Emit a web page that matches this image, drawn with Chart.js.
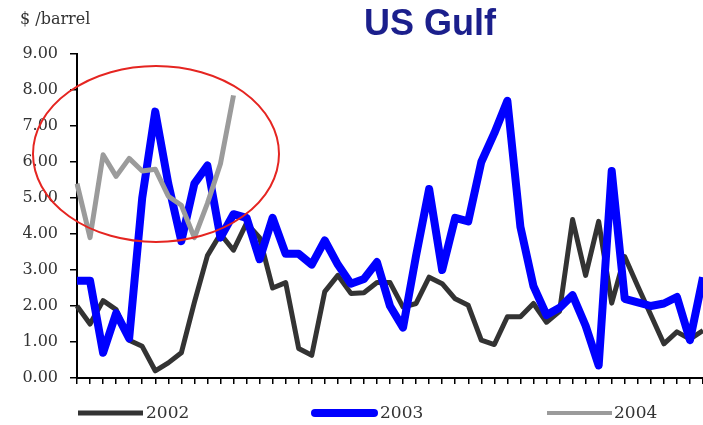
<!DOCTYPE html>
<html>
<head>
<meta charset="utf-8">
<script src="https://cdn.jsdelivr.net/npm/chart.js@4/dist/chart.umd.min.js"></script>
<style>
  html, body { margin: 0; padding: 0; background: #ffffff; overflow: hidden; }
  canvas { display: block; }
</style>
</head>
<body>
<canvas id="chart" width="703" height="425"></canvas>
<script>
// Weekly US Gulf values, $/barrel
const weeks = [1, 2, 3, 4, 5, 6, 7, 8, 9, 10, 11, 12, 13, 14, 15, 16, 17, 18, 19, 20,
  21, 22, 23, 24, 25, 26, 27, 28, 29, 30, 31, 32, 33, 34, 35, 36, 37, 38, 39, 40,
  41, 42, 43, 44, 45, 46, 47, 48, 49];

const gulf2002 = [2.0, 1.5, 2.15, 1.9, 1.05, 0.88, 0.2, 0.42, 0.7, 2.1,
  3.4, 4.0, 3.55, 4.3, 3.9, 2.5, 2.65, 0.82, 0.63, 2.4,
  2.85, 2.35, 2.37, 2.65, 2.65, 1.97, 2.07, 2.8, 2.62, 2.2,
  2.02, 1.05, 0.93, 1.7, 1.7, 2.07, 1.55, 1.85, 4.4, 2.85,
  4.35, 2.08, 3.37, 2.55, 1.75, 0.95, 1.28, 1.08, 1.32];

const gulf2003 = [2.7, 2.7, 0.7, 1.8, 1.1, 5.0, 7.4, 5.4, 3.8, 5.4,
  5.9, 3.9, 4.55, 4.45, 3.3, 4.45, 3.45, 3.45, 3.15, 3.82,
  3.15, 2.62, 2.75, 3.22, 2.0, 1.4, 3.4, 5.25, 3.0, 4.45,
  4.35, 6.0, 6.8, 7.7, 4.2, 2.55, 1.75, 1.95, 2.3, 1.45,
  0.35, 5.75, 2.2, 2.1, 2.0, 2.07, 2.25, 1.05, 2.8];

const gulf2004 = [5.4, 3.9, 6.2, 5.6, 6.1, 5.75, 5.8, 5.05, 4.8, 3.9,
  4.85, 5.95, 7.85];

const yTickLabels = ['0.00', '1.00', '2.00', '3.00', '4.00', '5.00', '6.00', '7.00', '8.00', '9.00'];
const seriesNames = ['2002', '2003', '2004'];

const serif = '"DejaVu Serif", "Liberation Serif", serif';

// Title, unit label, hand-drawn style highlight ring and the legend
const decorations = {
  id: 'decorations',
  afterDatasetsDraw(chart) {
    const ctx = chart.ctx;
    ctx.save();
    ctx.strokeStyle = '#e52521';
    ctx.lineWidth = 2;
    ctx.beginPath();
    ctx.ellipse(156, 154, 123, 88, 0, 0, Math.PI * 2);
    ctx.stroke();
    ctx.restore();
  },
  afterDraw(chart) {
    const ctx = chart.ctx;
    ctx.save();
    ctx.fillStyle = '#1b1f8c';
    ctx.font = 'bold 36px "Liberation Sans", Arial, sans-serif';
    ctx.textAlign = 'center';
    ctx.textBaseline = 'alphabetic';
    ctx.fillText('US Gulf', 430, 35);

    ctx.fillStyle = '#333333';
    ctx.font = '16px ' + serif;
    ctx.textAlign = 'left';
    ctx.fillText('$ /barrel', 20, 24);

    const items = [
      { x0: 78, x1: 143, tx: 146, width: 5, cap: 'butt' },
      { x0: 315, x1: 374, tx: 380, width: 8, cap: 'round' },
      { x0: 547, x1: 612, tx: 614, width: 4, cap: 'butt' }
    ];
    ctx.font = '17px ' + serif;
    chart.data.datasets.forEach((ds, i) => {
      const it = items[i];
      ctx.strokeStyle = ds.borderColor;
      ctx.lineWidth = it.width;
      ctx.lineCap = it.cap;
      ctx.beginPath();
      ctx.moveTo(it.x0, 413);
      ctx.lineTo(it.x1, 413);
      ctx.stroke();
      ctx.fillStyle = '#333333';
      ctx.fillText(ds.label, it.tx, 418);
    });
    ctx.restore();
  }
};

new Chart(document.getElementById('chart'), {
  type: 'line',
  data: {
    labels: weeks,
    datasets: [
      { label: seriesNames[0], data: gulf2002, borderColor: '#333333', borderWidth: 5, order: 3 },
      { label: seriesNames[1], data: gulf2003, borderColor: '#0000ff', borderWidth: 8, order: 2 },
      { label: seriesNames[2], data: gulf2004, borderColor: '#9b9b9b', borderWidth: 5, order: 1 }
    ]
  },
  options: {
    responsive: false,
    animation: false,
    devicePixelRatio: 1,
    layout: { padding: { left: 0, right: 0, top: 54, bottom: 41 } },
    elements: {
      point: { radius: 0, hoverRadius: 0 },
      line: { tension: 0, borderJoinStyle: 'round', borderCapStyle: 'butt', fill: false }
    },
    plugins: {
      legend: { display: false },
      title: { display: false },
      tooltip: { enabled: false }
    },
    scales: {
      x: {
        type: 'category',
        offset: false,
        grid: { display: true, drawOnChartArea: false, drawTicks: true, tickLength: 6, color: '#000000', lineWidth: 1.5, offset: false },
        border: { display: true, color: '#000000', width: 2 },
        ticks: { display: false, autoSkip: false },
        afterFit(scale) { scale.height = 6; }
      },
      y: {
        min: 0,
        max: 9,
        grid: { display: true, drawOnChartArea: false, drawTicks: true, tickLength: 7, color: '#000000', lineWidth: 1.5 },
        border: { display: true, color: '#000000', width: 2 },
        ticks: {
          stepSize: 1,
          padding: 12,
          color: '#333333',
          font: { family: serif, size: 16 },
          callback: (value, index) => yTickLabels[index]
        },
        afterFit(scale) { scale.width = 77; }
      }
    }
  },
  plugins: [decorations]
});
</script>
</body>
</html>
